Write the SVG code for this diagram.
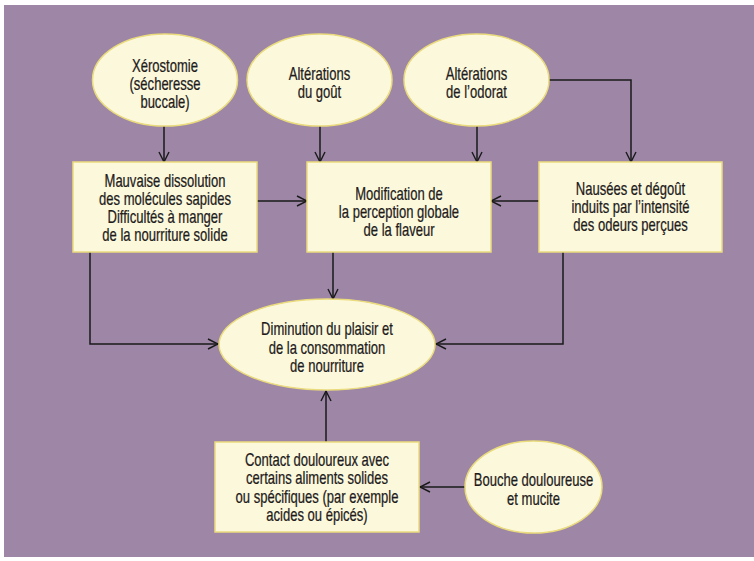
<svg xmlns="http://www.w3.org/2000/svg" width="754" height="561" viewBox="0 0 754 561">
<defs>
<style>
.n{fill:#fcf8db;stroke:#eadb7c;stroke-width:1.5}
.t{font-family:"Liberation Sans",Arial,sans-serif;font-size:17.5px;fill:#1e1b1c;stroke:#1e1b1c;stroke-width:0.25;text-anchor:middle}
.c{fill:none;stroke:#1a1a1a;stroke-width:1.5;marker-end:url(#a)}
</style>
<marker id="a" viewBox="0 0 12 12" refX="11" refY="6" markerWidth="12" markerHeight="12" markerUnits="userSpaceOnUse" orient="auto">
<path d="M1,1 L11,6 L1,11" fill="none" stroke="#1a1a1a" stroke-width="1.4"/>
</marker>
</defs>
<rect x="0" y="0" width="754" height="561" fill="#ffffff"/>
<rect x="4" y="5" width="750" height="552" fill="#9d86a6"/>
<g id="connectors">
<path class="c" d="M164,126 V162"/>
<path class="c" d="M320,126 V162"/>
<path class="c" d="M477,126 V162"/>
<path class="c" d="M549,80 H631 V162"/>
<path class="c" d="M257,201 H307"/>
<path class="c" d="M539,201 H491"/>
<path class="c" d="M333,252 V299"/>
<path class="c" d="M90,252 V344 H218"/>
<path class="c" d="M563,252 V344 H436"/>
<path class="c" d="M326,442 V391"/>
<path class="c" d="M465,487 H420"/>
</g>
<g id="xerostomie">
<ellipse class="n" cx="165" cy="80" rx="72.5" ry="46"/>
<text class="t" transform="translate(165,0) scale(0.745,1)"><tspan x="0" y="72">Xérostomie</tspan><tspan x="0" y="90">(sécheresse</tspan><tspan x="0" y="108">buccale)</tspan></text>
</g>
<g id="gout">
<ellipse class="n" cx="319.5" cy="80" rx="72.5" ry="46"/>
<text class="t" transform="translate(319.5,0) scale(0.745,1)"><tspan x="0" y="80">Altérations</tspan><tspan x="0" y="98">du goût</tspan></text>
</g>
<g id="odorat">
<ellipse class="n" cx="476.5" cy="80" rx="72.5" ry="46"/>
<text class="t" transform="translate(476.5,0) scale(0.745,1)"><tspan x="0" y="80">Altérations</tspan><tspan x="0" y="98">de l’odorat</tspan></text>
</g>
<g id="mauvaise">
<rect class="n" x="73" y="162" width="184" height="90"/>
<text class="t" transform="translate(165,0) scale(0.745,1)"><tspan x="0" y="187">Mauvaise dissolution</tspan><tspan x="0" y="205">des molécules sapides</tspan><tspan x="0" y="223">Difficultés à  manger</tspan><tspan x="0" y="241">de la nourriture solide</tspan></text>
</g>
<g id="modification">
<rect class="n" x="307" y="162" width="184" height="90"/>
<text class="t" transform="translate(399,0) scale(0.745,1)"><tspan x="0" y="200">Modification de</tspan><tspan x="0" y="218">la perception globale</tspan><tspan x="0" y="236">de la flaveur</tspan></text>
</g>
<g id="nausees">
<rect class="n" x="539" y="162" width="183" height="90"/>
<text class="t" transform="translate(630.5,0) scale(0.745,1)"><tspan x="0" y="195">Nausées et dégoût</tspan><tspan x="0" y="213">induits par l’intensité</tspan><tspan x="0" y="231">des odeurs perçues</tspan></text>
</g>
<g id="diminution">
<ellipse class="n" cx="327" cy="344.5" rx="108" ry="45.5"/>
<text class="t" transform="translate(327,0) scale(0.745,1)"><tspan x="0" y="335">Diminution du plaisir et</tspan><tspan x="0" y="354">de la consommation</tspan><tspan x="0" y="372">de nourriture</tspan></text>
</g>
<g id="contact">
<rect class="n" x="215" y="442" width="204" height="90"/>
<text class="t" transform="translate(317,0) scale(0.745,1)"><tspan x="0" y="466">Contact douloureux avec</tspan><tspan x="0" y="484">certains aliments solides</tspan><tspan x="0" y="503">ou spécifiques (par exemple</tspan><tspan x="0" y="521">acides ou épicés)</tspan></text>
</g>
<g id="bouche">
<ellipse class="n" cx="533.5" cy="487" rx="68.5" ry="46"/>
<text class="t" transform="translate(533.5,0) scale(0.745,1)"><tspan x="0" y="486">Bouche douloureuse</tspan><tspan x="0" y="505">et mucite</tspan></text>
</g>
</svg>
